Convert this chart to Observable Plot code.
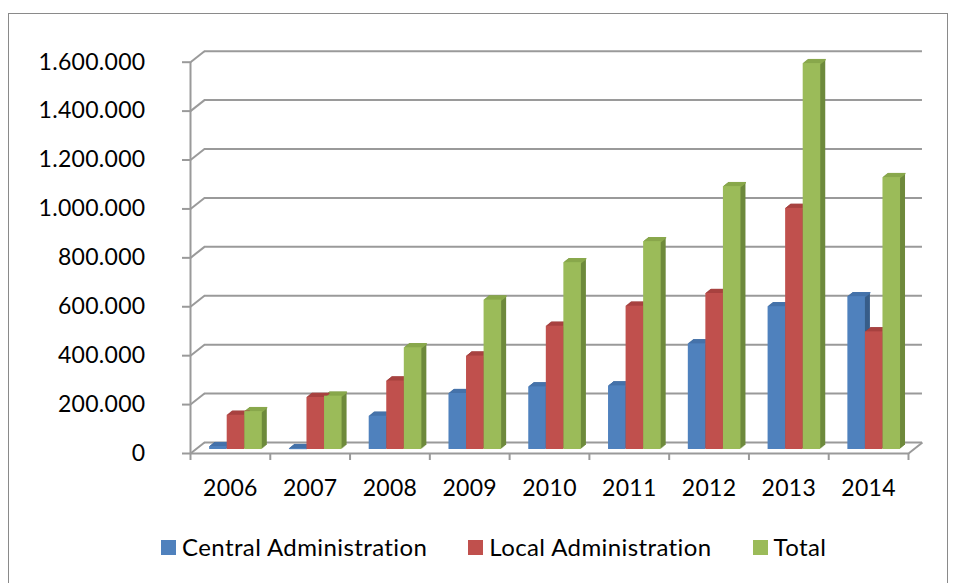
<!DOCTYPE html>
<html>
<head>
<meta charset="utf-8">
<script src="https://cdn.jsdelivr.net/npm/d3@7"></script>
<script src="https://cdn.jsdelivr.net/npm/@observablehq/plot@0.6"></script>
<style>
  html, body { margin: 0; padding: 0; background: #fff; }
  body { width: 955px; height: 583px; position: relative; overflow: hidden; font-family: Lato, "Open Sans", sans-serif; }
  #frame { position: absolute; left: 8px; top: 13px; width: 940px; height: 600px; border: 1.5px solid #8a8a8a; box-sizing: border-box; }
  #chart { position: absolute; left: 0; top: 0; }
  #legend { position: absolute; left: 161px; top: 532px; display: flex; align-items: center; font-size: 24px; letter-spacing: 0.4px; color: #000; white-space: nowrap; }
  .item { display: flex; align-items: center; margin-right: 41px; }
  .sw { width: 15px; height: 15px; margin-right: 6px; margin-top: 2px; }
</style>
</head>
<body>
<div id="frame"></div>
<div id="chart"></div>
<div id="legend"></div>
<script>
const years = ["2006", "2007", "2008", "2009", "2010", "2011", "2012", "2013", "2014"];
const seriesNames = ["Central Administration", "Local Administration", "Total"];
const central = [12000, 4000, 136000, 229000, 256000, 260000, 432000, 584000, 625000];
const local = [140000, 213000, 280000, 382000, 504000, 586000, 638000, 986000, 481000];
const total = [155000, 218000, 416000, 611000, 764000, 850000, 1075000, 1578000, 1112000];
const yTicks = [0, 200000, 400000, 600000, 800000, 1000000, 1200000, 1400000, 1600000];

const frontColors = ["#4F81BD", "#C0504D", "#9BBB59"];
const sideColors = ["#385D8A", "#8C3836", "#6E8A3C"];
const topColors = ["#4673AA", "#A84341", "#89A84C"];

const values = [central, local, total];
const data = years.flatMap((year, i) => values.map((vals, j) => ({
  year, i, j, value: vals[i],
  x1: i + 0.24 + j * 0.22,
  x2: i + 0.24 + (j + 1) * 0.22
})));

const nCat = years.length;
const depthX = 0.175;     // depth of the 3D box, in category units
const depthY = 45000;     // depth of the 3D box, in value units

const locale = d3.formatLocale({decimal: ",", thousands: ".", grouping: [3], currency: ["", ""]});
const fmt = locale.format(",");

const gridColor = "#9a9a9a";

const marks = [];
// back wall gridlines
marks.push(Plot.ruleY(yTicks, {y: d => d + depthY, x1: depthX, x2: nCat + depthX, stroke: gridColor, strokeWidth: 2}));
// left wall diagonals
marks.push(Plot.link(yTicks, {x1: 0, y1: d => d, x2: depthX, y2: d => d + depthY, stroke: gridColor, strokeWidth: 2}));
// right floor diagonal
marks.push(Plot.link([0], {x1: nCat, y1: d => d, x2: nCat + depthX, y2: d => d + depthY, stroke: gridColor, strokeWidth: 2}));

// bar side faces (extrusion)
for (let k = 5; k >= 1; k--) {
  marks.push(Plot.rectY(data, {x1: "x1", x2: "x2", y1: 0, y2: "value", fill: d => sideColors[d.j], dx: k, dy: -4 - 0.8 * k}));
}
// bar top faces
for (let k = 0; k <= 5; k += 0.5) {
  marks.push(Plot.link(data, {x1: "x1", x2: "x2", y1: "value", y2: "value", stroke: d => topColors[d.j], strokeWidth: 1.3, dx: k, dy: -4 - 0.8 * k}));
}
// bar front faces
marks.push(Plot.rectY(data, {x1: "x1", x2: "x2", y1: 0, y2: "value", fill: d => frontColors[d.j], dy: -4}));

// front axes
marks.push(Plot.ruleX([0], {stroke: gridColor, strokeWidth: 2}));
marks.push(Plot.ruleY([0], {stroke: gridColor, strokeWidth: 2}));
marks.push(Plot.axisY({ticks: yTicks, tickSize: 8, tickPadding: 37, tickFormat: fmt, fontSize: 23, stroke: gridColor, strokeWidth: 2, fill: "#000", label: null}));
marks.push(Plot.axisX({ticks: d3.range(nCat + 1), tickSize: 7, tickFormat: () => "", stroke: gridColor, strokeWidth: 2, label: null}));
marks.push(Plot.text(years, {x: (d, i) => i + 0.5, frameAnchor: "bottom", dy: 35, lineAnchor: "middle", fontSize: 23, fill: "#000"}));

const chart = Plot.plot({
  width: 955,
  height: 520,
  marginLeft: 190,
  marginRight: 47,
  marginTop: 61.7,
  marginBottom: 67,
  style: {fontFamily: "Lato, 'Open Sans', sans-serif", background: "transparent", color: "#000", letterSpacing: "0.3px"},
  x: {type: "linear", domain: [0, nCat], axis: null},
  y: {type: "linear", domain: [0, 1600000], axis: null},
  color: {type: "identity"},
  marks
});
document.getElementById("chart").appendChild(chart);

const legend = document.getElementById("legend");
seriesNames.forEach((name, j) => {
  const item = document.createElement("div");
  item.className = "item";
  const sw = document.createElement("div");
  sw.className = "sw";
  sw.style.background = frontColors[j];
  const label = document.createElement("span");
  label.textContent = name;
  item.appendChild(sw);
  item.appendChild(label);
  legend.appendChild(item);
});
</script>
</body>
</html>
